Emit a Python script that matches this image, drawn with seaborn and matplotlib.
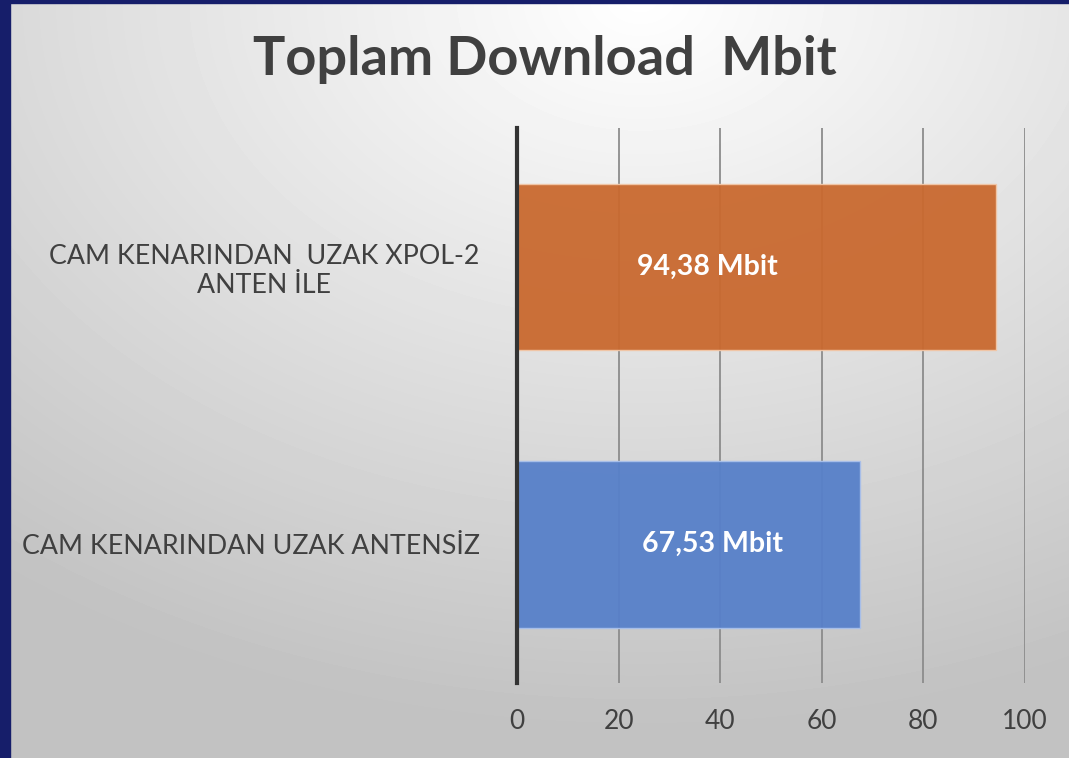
import numpy as np
import pandas as pd
import matplotlib.pyplot as plt
import seaborn as sns

# ==========================
# Data
# ==========================

categories = [
    "CAM KENARINDAN  UZAK XPOL-2\nANTEN İLE",
    "CAM KENARINDAN UZAK ANTENSİZ",
]
values = [94.38, 67.53]
value_labels = ["94,38 Mbit", "67,53 Mbit"]
bar_colors = ["#C9692F", "#5780C9"]
x_ticks = [0, 20, 40, 60, 80, 100]

df = pd.DataFrame({"category": categories, "value": values})

# ==========================
# Figure
# ==========================

sns.set_theme(style="white")
plt.rcParams["font.family"] = ["Lato", "DejaVu Sans"]

fig = plt.figure(figsize=(10.69, 7.58), dpi=100)

# radial gradient background
bg = fig.add_axes([0, 0, 1, 1], zorder=-10)
h, w = 758, 1069
yy, xx = np.mgrid[0:h, 0:w]
dist = np.sqrt(((xx - 640) / w) ** 2 + ((yy - 0) / h) ** 2)
grad = np.clip(1.0 - 0.25 * dist, 0.76, 1.0)
bg.imshow(grad, cmap="gray", vmin=0, vmax=1, aspect="auto", extent=[0, 1, 0, 1])
bg.set_xlim(0, 1)
bg.set_ylim(0, 1)
bg.axis("off")

# navy border on left and top
fig.patches.append(plt.Rectangle((0, 0), 10 / 1069, 1, transform=fig.transFigure,
                                 color="#161E6A", zorder=-5))
fig.patches.append(plt.Rectangle((0, 1 - 3 / 758), 1, 3 / 758, transform=fig.transFigure,
                                 color="#161E6A", zorder=-5))

ax = fig.add_axes([517 / 1069, 1 - 683 / 758, (1025 - 517) / 1069, (683 - 128) / 758])
ax.patch.set_alpha(0)

sns.barplot(
    data=df,
    x="value",
    y="category",
    hue="category",
    palette=bar_colors,
    saturation=1,
    legend=False,
    width=0.6,
    alpha=0.95,
    linewidth=1,
    ax=ax,
    zorder=3,
)
for patch, col in zip(ax.patches, ["#F2C7A8", "#A9C0EA"]):
    patch.set_edgecolor(col)

# Excel-style data labels, sitting left of the bar middle
for i, lab in enumerate(value_labels):
    ax.text(37.5 + i, i, lab, ha="center", va="center", color="white",
            fontsize=20.5, fontweight="bold", zorder=5)

ax.set_xlim(0, 100)
ax.set_ylim(1.5, -0.5)
ax.set_xticks(x_ticks)
ax.set_xticklabels([str(t) for t in x_ticks], fontsize=19, color="#404040")
ax.tick_params(axis="x", length=0, pad=19)
ax.tick_params(axis="y", length=0, pad=27)
for lab in ax.get_yticklabels():
    lab.set_fontsize(19.3)
    lab.set_color("#404040")
    lab.set_multialignment("center")

ax.grid(axis="x", color="#8C8C8C", linewidth=1.3, zorder=0)
ax.set_axisbelow(True)
for s in ["top", "right", "bottom"]:
    ax.spines[s].set_visible(False)
ax.spines["left"].set_color("#333333")
ax.spines["left"].set_linewidth(3)
ax.spines["left"].set_zorder(6)

ax.set_xlabel("")
ax.set_ylabel("")

fig.text(545 / 1069, 1 - 60 / 758, "Toplam Download  Mbit", ha="center", va="center",
         fontsize=39, fontweight="bold", color="#404040")

plt.savefig("out.png", dpi=100)
